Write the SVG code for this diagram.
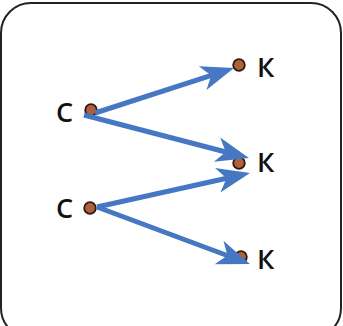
<svg xmlns="http://www.w3.org/2000/svg" width="343" height="326" viewBox="0 0 343 326">
<style>
.lbl{font-family:"Open Sans","DejaVu Sans",sans-serif;font-size:27px;font-weight:600;fill:#111}
.dot{fill:#b0603a;stroke:#2a1a10;stroke-width:1.8}
.arr{stroke:#4677c2;stroke-width:5;fill:none;marker-end:url(#ah)}
</style>
<defs>
<marker id="ah" markerUnits="userSpaceOnUse" markerWidth="36" markerHeight="30" viewBox="0 0 36 30" refX="23" refY="15" orient="auto">
<path d="M0,2.5 L33,15 L0,27.5 L9,15 Z" fill="#4677c2"/>
</marker>
</defs>
<rect x="1" y="3" width="340" height="335" rx="30" fill="#fff" stroke="#222" stroke-width="2"/>
<g id="c1"><circle class="dot" cx="91" cy="110" r="5.8"/><text class="lbl" x="56" y="122">С</text></g>
<g id="c2"><circle class="dot" cx="90" cy="208" r="5.8"/><text class="lbl" x="56" y="218">С</text></g>
<g id="k1"><circle class="dot" cx="239" cy="65" r="5.8"/><text class="lbl" x="257" y="77">К</text></g>
<g id="k2"><circle class="dot" cx="239" cy="163" r="5.8"/><text class="lbl" x="257" y="172">К</text></g>
<g id="k3"><circle class="dot" cx="241" cy="257" r="5.8"/><text class="lbl" x="257" y="269">К</text></g>
<g id="connectors">
<line class="arr" x1="95" y1="113" x2="224.5" y2="71.1"/>
<line class="arr" x1="84" y1="115" x2="239.3" y2="155.5"/>
<line class="arr" x1="97" y1="207" x2="240.2" y2="175.2"/>
<line class="arr" x1="97" y1="207" x2="240.6" y2="260.5"/>
</g>
</svg>
